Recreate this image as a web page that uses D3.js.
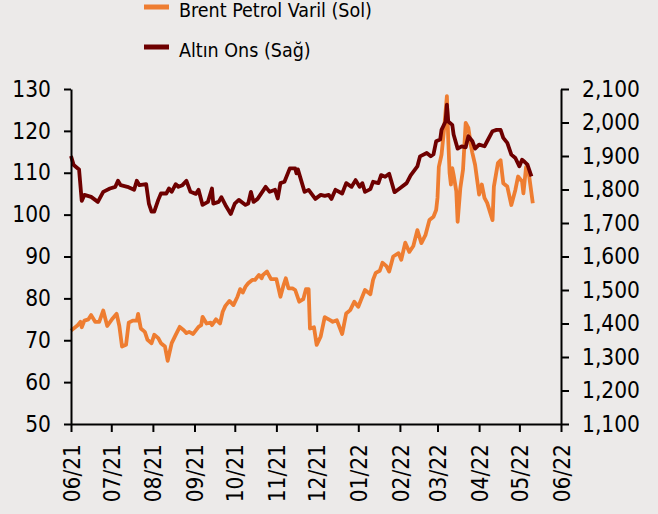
<!DOCTYPE html>
<html>
<head>
<meta charset="utf-8">
<script src="https://cdn.jsdelivr.net/npm/d3@7"></script>
<style>
  html, body { margin: 0; padding: 0; background: #ECEAE9; }
  #container { width: 658px; height: 514px; }
  text { font-family: "DejaVu Sans Condensed", "DejaVu Sans", sans-serif; font-stretch: condensed; fill: #000; }
</style>
</head>
<body>
<div id="container"></div>
<script>
// series labels
const seriesNames = ["Brent Petrol Varil (Sol)", "Altın Ons (Sağ)"];

// Brent (left axis, USD/bbl)
const brentDates = ["2021-06-01","2021-06-06","2021-06-08","2021-06-09","2021-06-11","2021-06-14","2021-06-16","2021-06-19","2021-06-22","2021-06-25",
  "2021-06-28","2021-07-02","2021-07-05","2021-07-07","2021-07-09","2021-07-12","2021-07-14","2021-07-17","2021-07-20","2021-07-21",
  "2021-07-23","2021-07-26","2021-07-28","2021-07-31","2021-08-02","2021-08-05","2021-08-07","2021-08-10","2021-08-12","2021-08-15",
  "2021-08-18","2021-08-21","2021-08-24","2021-08-26","2021-08-28","2021-08-31","2021-09-04","2021-09-06","2021-09-07","2021-09-10",
  "2021-09-13","2021-09-14","2021-09-17","2021-09-20","2021-09-22","2021-09-24","2021-09-27","2021-09-30","2021-10-03","2021-10-05",
  "2021-10-07","2021-10-09","2021-10-11","2021-10-14","2021-10-16","2021-10-19","2021-10-21","2021-10-22","2021-10-25","2021-10-28",
  "2021-11-01","2021-11-04","2021-11-06","2021-11-08","2021-11-10","2021-11-13","2021-11-15","2021-11-18","2021-11-21","2021-11-23",
  "2021-11-25","2021-11-26","2021-11-29","2021-12-01","2021-12-04","2021-12-07","2021-12-11","2021-12-13","2021-12-16","2021-12-20",
  "2021-12-23","2021-12-26","2021-12-29","2022-01-01","2022-01-03","2022-01-06","2022-01-10","2022-01-12","2022-01-14","2022-01-17",
  "2022-01-19","2022-01-22","2022-01-24","2022-01-27","2022-01-31","2022-02-02","2022-02-05","2022-02-08","2022-02-11","2022-02-14",
  "2022-02-17","2022-02-20","2022-02-23","2022-02-26","2022-02-28","2022-03-01","2022-03-02","2022-03-04","2022-03-06","2022-03-08",
  "2022-03-09","2022-03-10","2022-03-11","2022-03-12","2022-03-13","2022-03-15","2022-03-16","2022-03-18","2022-03-20","2022-03-22",
  "2022-03-24","2022-03-26","2022-03-27","2022-03-29","2022-04-01","2022-04-03","2022-04-05","2022-04-07","2022-04-11","2022-04-12",
  "2022-04-15","2022-04-17","2022-04-19","2022-04-22","2022-04-25","2022-04-28","2022-04-30","2022-05-03","2022-05-04","2022-05-06",
  "2022-05-08","2022-05-11"];
const brentValues = [72.3,73.6,74.4,73.1,74.7,75.0,76.0,74.4,74.4,77.1,
  73.4,75.2,76.3,73.4,68.5,68.9,74.2,74.7,74.7,76.3,
  72.8,72.0,70.1,69.3,71.3,70.5,69.3,68.5,65.1,69.3,
  71.3,73.2,72.4,71.7,72.0,71.5,73.2,73.6,75.6,74.0,
  74.2,73.6,75.0,74.0,76.8,78.2,79.4,78.4,80.4,82.2,
  81.4,82.8,83.6,84.4,84.4,85.6,84.8,85.6,86.4,84.6,
  84.6,80.4,82.8,84.8,82.4,82.4,82.0,79.2,79.8,82.2,
  82.2,72.8,73.1,68.9,70.9,75.5,74.8,74.4,74.8,71.5,
  76.4,77.2,79.2,78.0,79.6,82.0,81.0,84.4,86.1,86.6,
  88.5,87.7,86.4,90.0,90.8,89.2,93.3,91.1,92.5,96.3,
  93.2,95.1,98.7,99.5,101.1,104.0,111.4,114.3,120.7,128.3,
  118.0,110.0,107.2,111.1,109.5,105.6,98.3,106.3,110.7,121.9,
  120.7,116.3,114.7,111.9,104.8,107.2,104.0,102.8,98.7,106.7,
  112.3,113.0,107.5,106.7,102.3,105.9,109.1,107.9,105.1,111.4,
  109.9,102.7];

// Gold (right axis, USD/oz)
const goldDates = ["2021-06-01","2021-06-03","2021-06-07","2021-06-09","2021-06-11","2021-06-16","2021-06-21","2021-06-25","2021-06-30","2021-07-04",
  "2021-07-06","2021-07-08","2021-07-13","2021-07-18","2021-07-20","2021-07-22","2021-07-27","2021-07-29","2021-07-31","2021-08-02",
  "2021-08-05","2021-08-07","2021-08-11","2021-08-13","2021-08-15","2021-08-18","2021-08-20","2021-08-23","2021-08-26","2021-08-29",
  "2021-09-02","2021-09-04","2021-09-07","2021-09-11","2021-09-14","2021-09-15","2021-09-19","2021-09-21","2021-09-24","2021-09-28",
  "2021-10-01","2021-10-04","2021-10-09","2021-10-11","2021-10-13","2021-10-15","2021-10-18","2021-10-24","2021-10-27","2021-10-31",
  "2021-11-02","2021-11-04","2021-11-07","2021-11-11","2021-11-15","2021-11-16","2021-11-17","2021-11-22","2021-11-25","2021-11-30",
  "2021-12-04","2021-12-07","2021-12-10","2021-12-12","2021-12-15","2021-12-20","2021-12-23","2021-12-27","2021-12-30","2022-01-02",
  "2022-01-04","2022-01-06","2022-01-10","2022-01-12","2022-01-16","2022-01-18","2022-01-21","2022-01-24","2022-01-28","2022-02-01",
  "2022-02-06","2022-02-09","2022-02-14","2022-02-16","2022-02-21","2022-02-24","2022-02-26","2022-02-28","2022-03-03","2022-03-04",
  "2022-03-07","2022-03-08","2022-03-09","2022-03-12","2022-03-13","2022-03-16","2022-03-19","2022-03-22","2022-03-24","2022-03-27",
  "2022-03-29","2022-04-01","2022-04-05","2022-04-07","2022-04-11","2022-04-14","2022-04-17","2022-04-19","2022-04-22","2022-04-25",
  "2022-04-28","2022-05-01","2022-05-03","2022-05-05","2022-05-07","2022-05-10"];
const goldValues = [1900,1873,1860,1766,1784,1778,1763,1793,1803,1808,
  1826,1813,1808,1799,1826,1813,1816,1758,1734,1734,
  1769,1788,1788,1803,1793,1816,1808,1813,1826,1793,
  1787,1799,1754,1763,1803,1758,1763,1777,1754,1727,
  1758,1769,1754,1758,1793,1763,1772,1808,1793,1799,
  1773,1819,1823,1863,1863,1848,1860,1793,1799,1772,
  1784,1781,1784,1772,1799,1788,1819,1808,1828,1808,
  1819,1793,1801,1823,1819,1843,1838,1847,1792,1804,
  1819,1842,1869,1899,1909,1899,1905,1944,1949,1978,
  2003,2053,2003,1993,1964,1922,1929,1926,1959,1944,
  1922,1934,1929,1944,1974,1978,1978,1954,1939,1904,
  1894,1869,1889,1882,1874,1839];

// axis ticks
const xTickDates = ["2021-06-01","2021-07-01","2021-08-01","2021-09-01","2021-10-01","2021-11-01","2021-12-01",
  "2022-01-01","2022-02-01","2022-03-01","2022-04-01","2022-05-01","2022-06-01"];
const leftTicks = [50, 60, 70, 80, 90, 100, 110, 120, 130];
const rightTicks = [1100, 1200, 1300, 1400, 1500, 1600, 1700, 1800, 1900, 2000, 2100];

const colors = ["#EE7D31", "#6E0000"];

function drawChart() {
    const W = 658, H = 514;
    const margin = { top: 89, right: 97, bottom: 90, left: 71 };
    const width = W - margin.left - margin.right;
    const height = H - margin.top - margin.bottom;
    const parse = d3.timeParse("%Y-%m-%d");

    const svg = d3.select("#container").append("svg")
        .attr("width", W).attr("height", H);

    const g = svg.append("g").attr("transform", `translate(${margin.left},${margin.top})`);

    const x = d3.scaleTime().domain([parse(xTickDates[0]), parse(xTickDates[xTickDates.length - 1])]).range([0, width]);
    const yL = d3.scaleLinear().domain([50, 130]).range([height, 0]);
    const yR = d3.scaleLinear().domain([1100, 2100]).range([height, 0]);

    // lines
    const brent = brentDates.map((d, i) => ({ date: parse(d), v: brentValues[i] }));
    const gold = goldDates.map((d, i) => ({ date: parse(d), v: goldValues[i] }));

    g.append("path").datum(brent)
        .attr("fill", "none").attr("stroke", colors[0]).attr("stroke-width", 3.8)
        .attr("stroke-linejoin", "round")
        .attr("d", d3.line().x(d => x(d.date)).y(d => yL(d.v)));

    g.append("path").datum(gold)
        .attr("fill", "none").attr("stroke", colors[1]).attr("stroke-width", 3.8)
        .attr("stroke-linejoin", "round")
        .attr("d", d3.line().x(d => x(d.date)).y(d => yR(d.v)));

    // axes
    const ax = g.append("g").attr("transform", `translate(0,${height})`)
        .call(d3.axisBottom(x).tickValues(xTickDates.map(parse)).tickFormat(d3.timeFormat("%m/%y")).tickSize(8).tickSizeOuter(0));
    ax.selectAll("text")
        .attr("transform", "rotate(-90)")
        .attr("text-anchor", "end")
        .attr("x", -20).attr("y", 0).attr("dy", "0.36em");

    const al = g.append("g")
        .call(d3.axisLeft(yL).tickValues(leftTicks).tickSize(7).tickPadding(13).tickSizeOuter(0));

    const ar = g.append("g").attr("transform", `translate(${width},0)`)
        .call(d3.axisRight(yR).tickValues(rightTicks).tickFormat(d3.format(",")).tickSize(8).tickPadding(13).tickSizeOuter(0));

    [ax, al, ar].forEach(a => {
        a.select(".domain").attr("stroke", "#000").attr("stroke-width", 2);
        a.selectAll(".tick line").attr("stroke", "#000").attr("stroke-width", 2);
        a.selectAll("text").attr("font-size", 22.5).attr("fill", "#000")
            .style("font-family", '"DejaVu Sans Condensed", "DejaVu Sans", sans-serif');
    });

    // legend
    const legend = svg.append("g");
    seriesNames.forEach((name, i) => {
        const ly = 7 + i * 40;
        legend.append("line")
            .attr("x1", 144).attr("x2", 169).attr("y1", ly).attr("y2", ly)
            .attr("stroke", colors[i]).attr("stroke-width", 5);
        legend.append("text")
            .attr("x", 179).attr("y", ly + 10)
            .attr("font-size", 19.5)
            .text(name);
    });
}

drawChart();
</script>
</body>
</html>
